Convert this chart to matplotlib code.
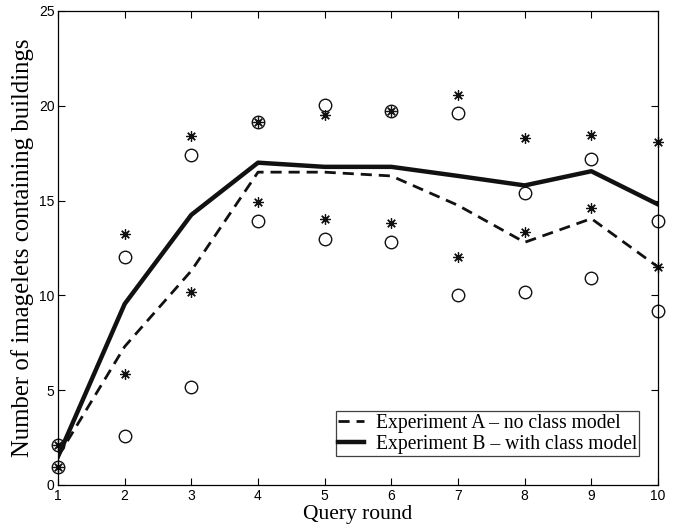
import matplotlib
matplotlib.use("Agg")
import matplotlib.pyplot as plt

rounds = [1, 2, 3, 4, 5, 6, 7, 8, 9, 10]

# Experiment A (dashed) mean and range (circles)
exp_a_mean = [1.5, 7.3, 11.3, 16.5, 16.5, 16.3, 14.75, 12.8, 14.05, 11.5]
exp_a_high = [2.1, 12.05, 17.4, 19.15, 20.05, 19.75, 19.6, 15.4, 17.2, 13.95]
exp_a_low = [0.95, 2.6, 5.15, 13.9, 13.0, 12.8, 10.0, 10.2, 10.9, 9.2]

# Experiment B (solid) mean and range (asterisks)
exp_b_mean = [1.5, 9.55, 14.25, 17.0, 16.78, 16.78, 16.3, 15.8, 16.55, 14.8]
exp_b_high = [2.1, 13.25, 18.4, 19.15, 19.5, 19.75, 20.55, 18.3, 18.45, 18.1]
exp_b_low = [0.95, 5.85, 10.2, 14.9, 14.05, 13.8, 12.0, 13.35, 14.6, 11.5]

x_ticks = [1, 2, 3, 4, 5, 6, 7, 8, 9, 10]
y_ticks = [0, 5, 10, 15, 20, 25]

fig = plt.figure(figsize=(6.76, 5.29), dpi=100)
ax = fig.add_axes([58 / 676, 44 / 529, 600 / 676, 474 / 529])

ax.plot(rounds, exp_a_mean, color="#111111", linestyle=(0, (4, 2.5)), linewidth=2.0,
        label="Experiment A \u2013 no class model")
ax.plot(rounds, exp_b_mean, color="#111111", linestyle="-", linewidth=3.2,
        label="Experiment B \u2013 with class model")

for vals in (exp_a_high, exp_a_low):
    ax.plot(rounds, vals, linestyle="none", marker="o", markersize=9,
            markerfacecolor="none", markeredgecolor="#111111", markeredgewidth=1.0,
            clip_on=False)
for vals in (exp_b_high, exp_b_low):
    ax.plot(rounds, vals, linestyle="none", marker=(8, 2, 0), markersize=7.5,
            markeredgecolor="#111111", markeredgewidth=0.9, clip_on=False)

ax.set_xlim(1, 10)
ax.set_ylim(0, 25)
ax.set_xticks(x_ticks)
ax.set_yticks(y_ticks)
ax.tick_params(direction="in", top=True, right=True, length=5, width=0.8,
               labelsize=10, pad=3)
ax.tick_params(axis="y", pad=2.5)
for lbl in ax.get_xticklabels() + ax.get_yticklabels():
    lbl.set_fontfamily("Liberation Sans")
for s in ax.spines.values():
    s.set_linewidth(0.9)

ax.set_xlabel("Query round", fontfamily="Liberation Serif", fontsize=15.5, labelpad=1)
ax.set_ylabel("Number of imagelets containing buildings", fontfamily="Liberation Serif",
              fontsize=17.8)
ax.yaxis.set_label_coords((34 - 58) / 600, 0.5)

x0 = (336 - 58) / 600
y0 = (485 - 456) / 474
leg = ax.legend(loc="lower left", bbox_to_anchor=(x0, y0),
                prop={"family": "Liberation Serif", "size": 14.1},
                frameon=True, fancybox=False, edgecolor="#111111",
                handlelength=1.3, handletextpad=0.6, borderpad=0.12,
                labelspacing=0.1, borderaxespad=0)
leg.get_frame().set_linewidth(0.9)

fig.savefig("out.png", dpi=100)
